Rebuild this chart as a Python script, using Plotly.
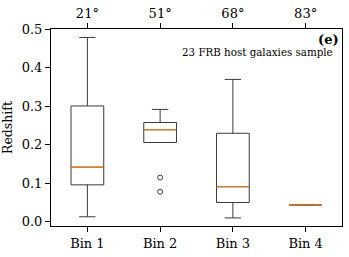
import plotly.graph_objects as go

bins = ["Bin 1", "Bin 2", "Bin 3", "Bin 4"]
angles = ["21°", "51°", "68°", "83°"]
positions = [1, 2, 3, 4]
q1 = [0.096, 0.206, 0.050, 0.044]
median = [0.142, 0.239, 0.091, 0.044]
q3 = [0.301, 0.258, 0.230, 0.044]
lower = [0.013, 0.206, 0.010, 0.044]
upper = [0.479, 0.292, 0.370, 0.044]
outlier_x = [2, 2]
outlier_y = [0.115, 0.078]

box_w = 0.45
font = "DejaVu Serif"

fig = go.Figure()
fig.add_trace(go.Box(
    x=positions, q1=q1, median=median, q3=q3,
    lowerfence=lower, upperfence=upper,
    width=box_w, whiskerwidth=0.5,
    line=dict(color="#3a3a3a", width=1),
    fillcolor="rgba(0,0,0,0)",
    boxpoints=False, showlegend=False, hoverinfo="skip",
))
fig.add_trace(go.Scatter(
    x=outlier_x, y=outlier_y, mode="markers",
    marker=dict(symbol="circle-open", size=5, color="#3a3a3a", line=dict(width=1)),
    showlegend=False, hoverinfo="skip",
))
# invisible trace for top axis
fig.add_trace(go.Scatter(x=positions, y=median, xaxis="x2", mode="markers",
                         marker=dict(opacity=0), showlegend=False, hoverinfo="skip"))

shapes = []
for p, m in zip(positions, median):
    shapes.append(dict(type="line", xref="x", yref="y", x0=p - box_w / 2, x1=p + box_w / 2,
                       y0=m, y1=m, layer="above", line=dict(color="#ff7f0e", width=1.1)))

axis_common = dict(showline=True, linecolor="black", linewidth=1, ticks="outside",
                   ticklen=5, tickwidth=1, tickcolor="black", showgrid=False,
                   zeroline=False, tickfont=dict(family=font, size=13, color="black"))

fig.update_layout(
    width=349, height=257,
    margin=dict(l=51, r=6, t=28, b=29),
    plot_bgcolor="white", paper_bgcolor="white",
    shapes=shapes,
    xaxis=dict(range=[0.5, 4.5], tickvals=positions, ticktext=bins, mirror=True, **axis_common),
    xaxis2=dict(range=[0.5, 4.5], tickvals=positions, ticktext=angles, overlaying="x",
                side="top", **axis_common),
    yaxis=dict(range=[-0.011, 0.501], tickvals=[0, 0.1, 0.2, 0.3, 0.4, 0.5],
               ticktext=["0.0", "0.1", "0.2", "0.3", "0.4", "0.5"], mirror=True,
               title=dict(text="Redshift", font=dict(family=font, size=12.5, color="black"), standoff=6),
               **axis_common),
    annotations=[
        dict(text="<b>(e)</b>", xref="paper", yref="paper", x=0.995, y=0.949,
             xanchor="right", yanchor="middle", showarrow=False,
             font=dict(family=font, size=13, color="black")),
        dict(text="23 FRB host galaxies sample", xref="paper", yref="paper", x=0.976, y=0.885,
             xanchor="right", yanchor="middle", showarrow=False,
             font=dict(family=font, size=10.3, color="black")),
    ],
)
fig.write_html("out.html", config={"displayModeBar": False},
               post_script="document.body.style.margin='0';")
